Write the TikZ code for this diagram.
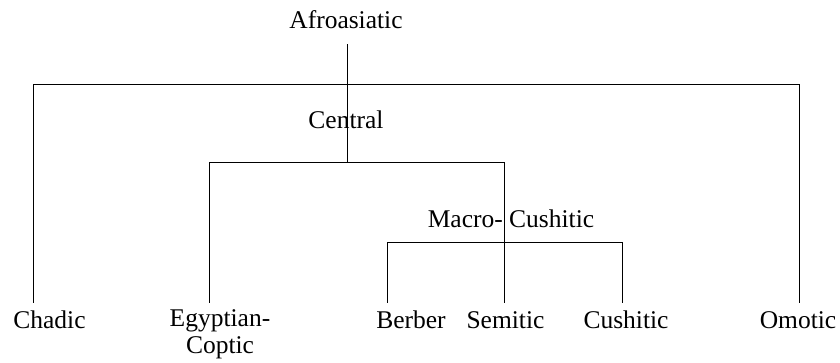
\documentclass[tikz,border=0pt]{standalone}
\usepackage{fontspec}
\setmainfont{Liberation Serif}
\begin{document}
\begin{tikzpicture}[x=1pt,y=-1pt,
  lbl/.style={inner sep=0pt, font=\fontsize{25.5}{27}\selectfont},
  branch/.style={draw=black, line width=1pt, line cap=rect}]
\useasboundingbox (0,0) rectangle (840,363);

% group labels
\node[lbl, anchor=base] (afro) at (346,29) {Afroasiatic};
\node[lbl, anchor=base] (central) at (346,129) {Central};
\node[lbl, anchor=base] (macro) at (511,228) {Macro- Cushitic};

% leaf labels
\node[lbl, anchor=base] (chadic) at (49.5,328) {Chadic};
\node[lbl, anchor=north, align=center] (egypt) at (220,309) {Egyptian-\\Coptic};
\node[lbl, anchor=base] (berber) at (411,328) {Berber};
\node[lbl, anchor=base] (semitic) at (505.5,328) {Semitic};
\node[lbl, anchor=base] (cushitic) at (626,328) {Cushitic};
\node[lbl, anchor=base] (omotic) at (798,328) {Omotic};

% branch points
\coordinate (root) at (347,45);
\coordinate (rootEnd) at (347,163);
\coordinate (topL) at (33,85);
\coordinate (topR) at (799,85);
\coordinate (cenL) at (209,163);
\coordinate (cenR) at (504,163);
\coordinate (macL) at (387,243);
\coordinate (macR) at (622,243);

% leaf ends
\coordinate (chadicEnd) at (33,302);
\coordinate (omoticEnd) at (799,302);
\coordinate (egyptEnd) at (209,302);
\coordinate (semiticEnd) at (504,302);
\coordinate (berberEnd) at (387,302);
\coordinate (cushiticEnd) at (622,302);

% tree
\draw[branch] (root) -- (rootEnd);
\draw[branch] (chadicEnd) -- (topL) -- (topR) -- (omoticEnd);
\draw[branch] (egyptEnd) -- (cenL) -- (cenR) -- (semiticEnd);
\draw[branch] (berberEnd) -- (macL) -- (macR) -- (cushiticEnd);
\end{tikzpicture}
\end{document}
